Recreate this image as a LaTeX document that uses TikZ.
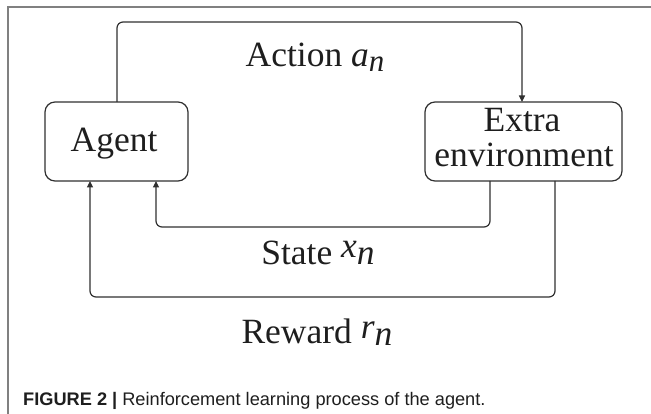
\documentclass[tikz,border=0pt]{standalone}
\usepackage{fontspec}
\setmainfont{Liberation Serif}
\newfontfamily\capfont{Liberation Sans}
\usetikzlibrary{arrows.meta}
\definecolor{lin}{HTML}{303030}
\definecolor{txt}{HTML}{1E1E1E}
\definecolor{frm}{HTML}{808080}
\tikzset{
  box/.style={draw=lin, line width=1.2pt, rounded corners=10pt, inner sep=0pt},
  conn/.style={draw=lin, line width=1.2pt, rounded corners=6pt, -{Triangle[length=6.5pt,width=6pt]}},
  lbl/.style={anchor=base, inner sep=0pt, font=\fontsize{35.5}{38}\selectfont, text=txt},
}
\begin{document}
\begin{tikzpicture}[x=1pt,y=-1pt]
\useasboundingbox (0,0) rectangle (651,414);
% frame
\draw[frm, line width=1.5pt] (8,414) -- (8,7) -- (651,7);
% boxes
\node[box, minimum width=143pt, minimum height=79pt] (agent) at (116.5,141.5) {};
\node[lbl] (agentlbl) at (114,152) {Agent};
\node[box, minimum width=197pt, minimum height=79pt] (env) at (523.5,141.5) {};
\node[lbl] (extralbl) at (522,132) {Extra};
\node[lbl] (envlbl) at (524,167) {environment};
% connector endpoints
\coordinate (aTop) at (117,102);
\coordinate (eTop) at (522,102);
\coordinate (eS) at (490,181);
\coordinate (eR) at (555,181);
\coordinate (aS) at (156,181);
\coordinate (aR) at (90,181);
\draw[conn] (aTop) -- (117,22) -- (522,22) -- (eTop);
\draw[conn] (eS) -- (490,227) -- (156,227) -- (aS);
\draw[conn] (eR) -- (555,297) -- (90,297) -- (aR);
% labels
\node[lbl] (action) at (315,67) {Action \textit{a}\raisebox{-5pt}{\fontsize{31}{33}\selectfont\textit{n}}};
\node[lbl] (state) at (318,265) {State \raisebox{7pt}{\textit{x}}\textit{n}};
\node[lbl] (reward) at (317,343) {Reward \raisebox{5pt}{\textit{r}}\raisebox{-2pt}{\textit{n}}};
% caption
\node[anchor=base west, inner sep=0pt, text=txt, font=\capfont\fontsize{18.2}{21}\selectfont] (cap) at (23,405) {\textbf{FIGURE 2 |} Reinforcement learning process of the agent.};
\end{tikzpicture}
\end{document}
